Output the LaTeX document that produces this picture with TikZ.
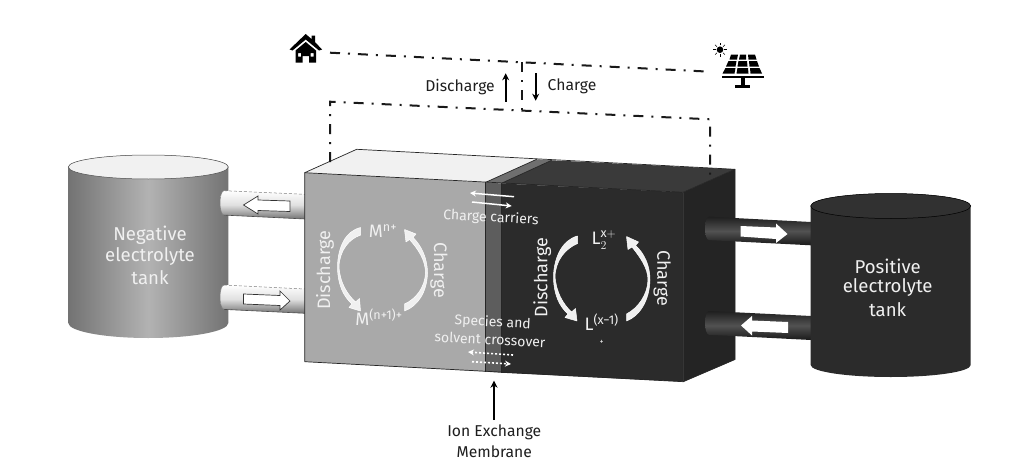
\documentclass[tikz,border=0pt]{standalone}
\usepackage{fontspec}
\usepackage{amsmath}
\setmainfont{Fira Sans}
\usetikzlibrary{arrows.meta,calc}
\definecolor{faceL}{HTML}{A9A9A9}
\definecolor{topL}{HTML}{F1F1F1}
\definecolor{faceM}{HTML}{5D5D5D}
\definecolor{topM}{HTML}{6F6F6F}
\definecolor{faceR}{HTML}{2B2B2B}
\definecolor{topR}{HTML}{3A3A3A}
\definecolor{sideR}{HTML}{242424}
\definecolor{inkT}{HTML}{1E1E1E}
\definecolor{softW}{HTML}{F0F0F0}
\tikzset{
  edgeline/.style={draw=black!85,line width=0.7pt,line join=round},
  wire/.style={line width=2pt,black!90,dash pattern=on 10pt off 8pt on 2pt off 8pt},
  darktxt/.style={text=inkT,font=\fontsize{15.7}{17}\selectfont,inner sep=0pt},
  lighttxt/.style={text=softW,font=\fontsize{18.6}{21}\selectfont,inner sep=0pt,align=center},
  cycletxt/.style={text=softW,font=\fontsize{18}{20}\selectfont,inner sep=0pt},
  smalltxt/.style={text=softW,font=\fontsize{14}{16}\selectfont,inner sep=0pt},
  flow/.style={-{Stealth[length=7pt,width=7pt]},line width=2pt},
  bendW/.style={fill=softW,draw=white,line width=0.5pt,line join=round},
  blockW/.style={fill=white,draw=black!80,line width=0.7pt},
  blockD/.style={fill=white},
}
\begin{document}
\begin{tikzpicture}[x=1pt,y=-1pt]
\useasboundingbox (0,0) rectangle (1029,471);
\fill[white] (0,0) rectangle (1029,471);

% Connection points of the external circuit
\coordinate (wireHouse) at (330,52.7);
\coordinate (wireSolar) at (710,71.7);
\coordinate (busTop) at (521.7,62);
\coordinate (busBot) at (521.7,111);
\coordinate (leftCorner) at (330,101.7);
\coordinate (leftDrop) at (330,162);
\coordinate (rightCorner) at (710,119.3);
\coordinate (rightDrop) at (710,180);

% Negative tank
\shade[left color=black!55,right color=black!55,middle color=black!30]
  (68.3,167) -- (68.3,323) arc[start angle=180,end angle=0,x radius=80,y radius=15]
  -- (228.3,167) arc[start angle=0,end angle=-180,x radius=80,y radius=12] -- cycle;
\fill[topL,draw=black!70,line width=0.5pt] (148.3,167) ellipse[x radius=80,y radius=12];

% Pipes on the negative side
\shade[top color=white,bottom color=black!55,middle color=black!12]
  (305,194.3) -- (224,190.7) arc[start angle=270,end angle=90,x radius=4,y radius=12.2] -- (305,219) -- cycle;
\draw[black!70,line width=0.6pt] (224,215.1) -- (305,219);
\draw[black!50,line width=0.5pt,densely dashed] (224,190.7) -- (305,194.3);
\draw[black!50,line width=0.5pt] (224,190.7) arc[start angle=270,end angle=90,x radius=4,y radius=12.2];
\shade[top color=white,bottom color=black!55,middle color=black!12]
  (305,289) -- (224,285) arc[start angle=270,end angle=90,x radius=4,y radius=12.2] -- (305,313.3) -- cycle;
\draw[black!70,line width=0.6pt] (224,309.4) -- (305,313.3);
\draw[black!50,line width=0.5pt,densely dashed] (224,285) -- (305,289);
\draw[black!50,line width=0.5pt] (224,285) arc[start angle=270,end angle=90,x radius=4,y radius=12.2];

% Flow markers in the negative pipes
\draw[blockW] (290,201) -- (258,200) -- (258,196) -- (243.5,205) -- (258,214) -- (258,210.5) -- (290,211.5) -- cycle;
\draw[blockW] (243.5,294) -- (280,295.5) -- (280,291) -- (290,301) -- (280,310) -- (280,305.5) -- (243.5,304) -- cycle;

% Cell body: top faces
\fill[topL] (304.7,172.7) -- (356.7,149.3) -- (536.7,159.3) -- (485.7,182.3) -- cycle;
\fill[topM] (485.7,182.3) -- (536.7,159.3) -- (551.7,160.3) -- (501,183.5) -- cycle;
\fill[topR] (501,183.5) -- (551.7,160.3) -- (735,169.3) -- (683.3,192.3) -- cycle;
% Cell body: front faces
\fill[faceL] (304.7,172.7) -- (485.7,182.3) -- (485.7,371.7) -- (304.7,361.7) -- cycle;
\fill[faceM] (485.7,182.3) -- (501,183.5) -- (501,372.7) -- (485.7,371.7) -- cycle;
\fill[faceR] (501,183.5) -- (683.3,192.3) -- (683.3,381.7) -- (501,372.7) -- cycle;
% Cell body: side face
\fill[sideR] (683.3,192.3) -- (735,169.3) -- (735,359.5) -- (683.3,381.7) -- cycle;
% Cell body: edges
\draw[edgeline] (304.7,361.7) -- (304.7,172.7) -- (356.7,149.3) -- (735,169.3) -- (735,359.5) -- (683.3,381.7) -- (304.7,361.7);
\draw[edgeline] (304.7,172.7) -- (683.3,192.3) -- (683.3,381.7);
\draw[edgeline] (683.3,192.3) -- (735,169.3);
\draw[edgeline] (485.7,182.3) -- (485.7,371.7);
\draw[edgeline] (501,183.5) -- (501,372.7);
\draw[edgeline] (485.7,182.3) -- (536.7,159.3);
\draw[edgeline] (501,183.5) -- (551.7,160.3);

% Pipes on the positive side, standing out from the side face
\shade[top color=black!88,bottom color=black!90,middle color=black!68]
  (811,222) -- (709,216.7) arc[start angle=270,end angle=90,x radius=4,y radius=11.7] -- (811,245.3) -- cycle;
\shade[top color=black!88,bottom color=black!90,middle color=black!68]
  (811,316) -- (709,311) arc[start angle=270,end angle=90,x radius=4,y radius=11.9] -- (811,340) -- cycle;

% Positive tank
\fill[faceR] (810.7,206) -- (810.7,365) arc[start angle=180,end angle=0,x radius=80,y radius=12]
  -- (970.7,206) arc[start angle=0,end angle=-180,x radius=80,y radius=12.5] -- cycle;
\fill[topR!85!black,draw=black,line width=0.5pt] (890.7,206) ellipse[x radius=80,y radius=12.5];

% Flow markers in the positive pipes
\fill[blockD] (740.5,226) -- (776,227.5) -- (776,223.5) -- (787.5,234) -- (776,243) -- (776,239) -- (740.5,236.5) -- cycle;
\fill[blockD] (788,322) -- (752,320.5) -- (752,316) -- (741,325.5) -- (752,335.5) -- (752,331.5) -- (788,333) -- cycle;

% External circuit
\draw[wire] (wireHouse) -- (wireSolar);
\draw[wire] (busTop) -- (busBot);
\draw[wire] (leftDrop) -- (leftCorner) -- (rightCorner) -- (rightDrop);

% House
\fill[black] (305.7,34) -- (311.5,39) -- (311.5,35.5) -- (315,35.5) -- (315,42) -- (322,49.5) -- (319,50.5)
  -- (305.7,39.5) -- (292.5,50.5) -- (289.5,49.5) -- cycle;
\fill[black,even odd rule] (305.7,42) -- (316,50.5) -- (316,62.5) -- (309,62.5) -- (309,56) -- (302.5,56)
  -- (302.5,62.5) -- (295.5,62.5) -- (295.5,50.5) -- cycle
  (298,53) rectangle (301,56.5) (310.5,53) rectangle (313.5,56.5);

% Solar panel
\fill[black] (720,49.7) circle[radius=3.3];
\foreach \a in {0,45,...,315}
  \draw[black,line width=0.6pt] (720,49.7) ++(\a:4.3) -- ++(\a:2.6);
\fill[black] (731,54.5) -- (738,54.5) -- (737,59.5) -- (729.5,59.5) -- cycle;
\fill[black] (740,54.5) -- (746,54.5) -- (746,59.5) -- (739,59.5) -- cycle;
\fill[black] (748,54.5) -- (755,54.5) -- (756.5,59.5) -- (748.5,59.5) -- cycle;
\fill[black] (728.5,61) -- (736.5,61) -- (735.5,66.5) -- (726,66.5) -- cycle;
\fill[black] (738.5,61) -- (747,61) -- (747.5,66.5) -- (737.5,66.5) -- cycle;
\fill[black] (749,61) -- (757,61) -- (759,66.5) -- (749.5,66.5) -- cycle;
\fill[black] (725.5,68) -- (735.5,68) -- (734.5,73.5) -- (722.5,73.5) -- cycle;
\fill[black] (737.5,68) -- (748,68) -- (748.5,73.5) -- (736.5,73.5) -- cycle;
\fill[black] (750,68) -- (759.5,68) -- (762,73.5) -- (750.5,73.5) -- cycle;
\fill[black] (721.5,75.5) rectangle (764,77.5);
\fill[black] (741,77.5) rectangle (744.5,85);
\fill[black] (735,85) rectangle (750,88);

% Power flow arrows
\coordinate (dischargeFrom) at (505.7,101.7);
\coordinate (dischargeTo) at (505.7,73.3);
\coordinate (chargeFrom) at (535.7,73);
\coordinate (chargeTo) at (535.7,100.7);
\draw[flow] (dischargeFrom) -- (dischargeTo);
\draw[flow] (chargeFrom) -- (chargeTo);
\node[darktxt] (lblDischarge) at (460,87.5) {Discharge};
\node[darktxt] (lblCharge) at (572,86) {Charge};

% Tank labels
\node[lighttxt] (tankNeg1) at (150,235) {Negative};
\node[lighttxt] (tankNeg2) at (150,257) {electrolyte};
\node[lighttxt] (tankNeg3) at (150,278) {tank};
\node[lighttxt] (tankPos1) at (887.7,266) {Positive};
\node[lighttxt] (tankPos2) at (887.7,288) {electrolyte};
\node[lighttxt] (tankPos3) at (887.7,310) {tank};

% Redox cycle on the negative side
\fill[bendW] (360.7,227.5) .. controls (345,231) and (338,248) .. (337.5,266)
  .. controls (337.5,284) and (343,296) .. (352,304) -- (349,307.5) -- (360.5,311) -- (359.5,298.5) -- (355.5,302)
  .. controls (347,294) and (339.5,282) .. (339,266)
  .. controls (340,250) and (349,239) .. (360.7,235) -- cycle;
\fill[bendW] (404.5,311) .. controls (418,306) and (427,292) .. (427.5,273)
  .. controls (427.5,258) and (421,245) .. (413,237.5) -- (416,234) -- (404.5,229.5) -- (406,242) -- (409.5,239.5)
  .. controls (418,249) and (425.5,260) .. (425.5,273)
  .. controls (425,287) and (416,299) .. (404.5,304) -- cycle;
\node[cycletxt,rotate=90] (cycLD) at (325,270) {Discharge};
\node[cycletxt,rotate=-90] (cycLC) at (439,270) {Charge};
\node[cycletxt] (ionM1) at (383,231) {M\textsuperscript{n+}};
\node[cycletxt] (ionM2) at (379,317) {M\textsuperscript{(n+1)+}};

% Redox cycle on the positive side
\fill[bendW] (577.5,236) .. controls (562,240) and (554,258) .. (553.5,276)
  .. controls (553.5,294) and (559,306) .. (568,314) -- (565,317.5) -- (577,321) -- (575.5,308.5) -- (571.5,312)
  .. controls (563,304) and (556,292) .. (555,276)
  .. controls (556,260) and (565,249) .. (577.5,243.5) -- cycle;
\fill[bendW] (626.5,321) .. controls (640,316) and (649.5,300) .. (650,280)
  .. controls (650,265) and (644,253) .. (635.5,245.5) -- (638.5,242) -- (626.5,236.5) -- (628,249.5) -- (632,247)
  .. controls (640,257) and (648,268) .. (648,280)
  .. controls (647.5,295) and (638,308) .. (626.5,314) -- cycle;
\node[cycletxt,rotate=90] (cycRD) at (542.3,277.7) {Discharge};
\node[cycletxt,rotate=-90] (cycRC) at (662.3,278) {Charge};
\node[cycletxt] (ionL1) at (604,240) {$\mathrm{L}_2^{\mathrm{x}+}$};
\node[cycletxt] (ionL2) at (601.7,322.5) {L\textsuperscript{(x\textminus 1)}};
\node[text=softW,font=\fontsize{8}{9}\selectfont,inner sep=0pt] (ionL3) at (601.7,342) {+};

% Transport across the membrane
\coordinate (ccA) at (514,196.7);
\coordinate (ccB) at (470,193);
\coordinate (ccC) at (472,202);
\coordinate (ccD) at (511.7,206);
\draw[-{Stealth[length=6pt,width=6pt]},white,line width=1.5pt] (ccA) -- (ccB);
\draw[-{Stealth[length=6pt,width=6pt]},white,line width=1.5pt] (ccC) -- (ccD);
\node[smalltxt,rotate=-3] (lblCarriers) at (491,218) {Charge carriers};
\node[smalltxt,rotate=-3] (lblSpecies) at (492.7,322.5) {Species and};
\node[smalltxt,rotate=-3] (lblSolvent) at (490,339.5) {solvent crossover};
\coordinate (coA) at (513,355);
\coordinate (coB) at (468,352);
\coordinate (coC) at (472,361.7);
\coordinate (coD) at (511,364);
\draw[-{Stealth[length=6pt,width=6pt]},white,line width=1.6pt,dash pattern=on 2pt off 2pt] (coA) -- (coB);
\draw[-{Stealth[length=6pt,width=6pt]},white,line width=1.6pt,dash pattern=on 2pt off 2pt] (coC) -- (coD);

% Membrane callout
\node[darktxt,align=center] (lblIon1) at (494.3,432.7) {Ion Exchange};
\node[darktxt,align=center] (lblIon2) at (494.3,452) {Membrane};
\coordinate (ionTail) at (494,420);
\coordinate (ionTip) at (494,380.7);
\draw[flow] (ionTail) -- (ionTip);
\end{tikzpicture}
\end{document}
